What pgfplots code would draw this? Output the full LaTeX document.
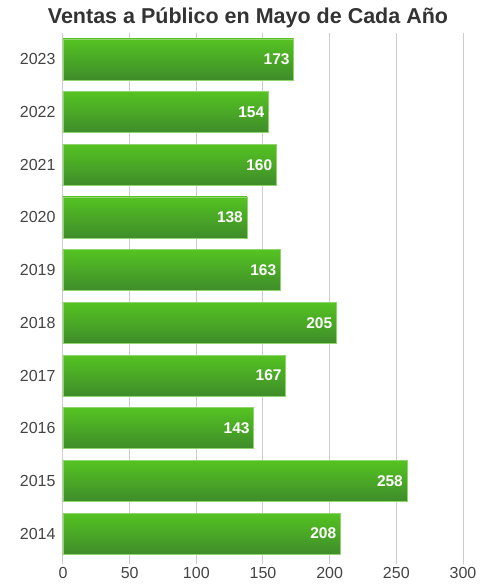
\documentclass[border=0pt]{standalone}
\usepackage{pgfplots}
\pgfplotsset{compat=1.18}
\usepackage{fontspec}
\setmainfont{Liberation Sans}
\definecolor{bartop}{HTML}{55C322}
\definecolor{barbot}{HTML}{3E8C2A}
\definecolor{baredge}{HTML}{8FD46C}
\definecolor{gridc}{HTML}{CCCCCC}
\definecolor{tickc}{HTML}{444444}
\definecolor{titlec}{HTML}{333333}
\begin{document}
\begin{tikzpicture}
\begin{axis}[
  name=ax, at={(0,0)}, anchor=south west,
  scale only axis, width=400pt, height=527pt,
  xbar, bar width=41pt, bar shift=0pt,
  xmin=0, xmax=300, ymin=-0.5, ymax=9.5,
  xtick={0,50,...,300},
  ytick={0,...,9},
  yticklabels={2014,2015,2016,2017,2018,2019,2020,2021,2022,2023},
  axis line style={draw=none},
  xmajorgrids, grid style={gridc, line width=1pt},
  major tick length=4pt,
  xtick style={gridc, line width=1pt}, tick pos=lower, tick align=outside,
  ytick style={draw=none},
  tick label style={font=\fontsize{16}{19}\selectfont, text=tickc},
  /pgf/number format/assume math mode=true,
  point meta=x,
  nodes near coords,
  every node near coord/.append style={anchor=east, xshift=-0.5pt, text=white, font=\bfseries\fontsize{15.5}{18}\selectfont},
  barstyle/.style={draw=baredge, line width=0.6pt, top color=bartop, bottom color=barbot},
]
\addplot[barstyle] coordinates {(208,0)};
\addplot[barstyle] coordinates {(258,1)};
\addplot[barstyle] coordinates {(143,2)};
\addplot[barstyle] coordinates {(167,3)};
\addplot[barstyle] coordinates {(205,4)};
\addplot[barstyle] coordinates {(163,5)};
\addplot[barstyle] coordinates {(138,6)};
\addplot[barstyle] coordinates {(160,7)};
\addplot[barstyle] coordinates {(154,8)};
\addplot[barstyle] coordinates {(173,9)};
\end{axis}
\node[font=\bfseries\fontsize{21.5}{25}\selectfont, text=titlec] at (185pt,542pt) {Ventas a Público en Mayo de Cada Año};
\pgfresetboundingbox
\path (-63pt,-27pt) rectangle (435pt,560pt);
\end{tikzpicture}
\end{document}
